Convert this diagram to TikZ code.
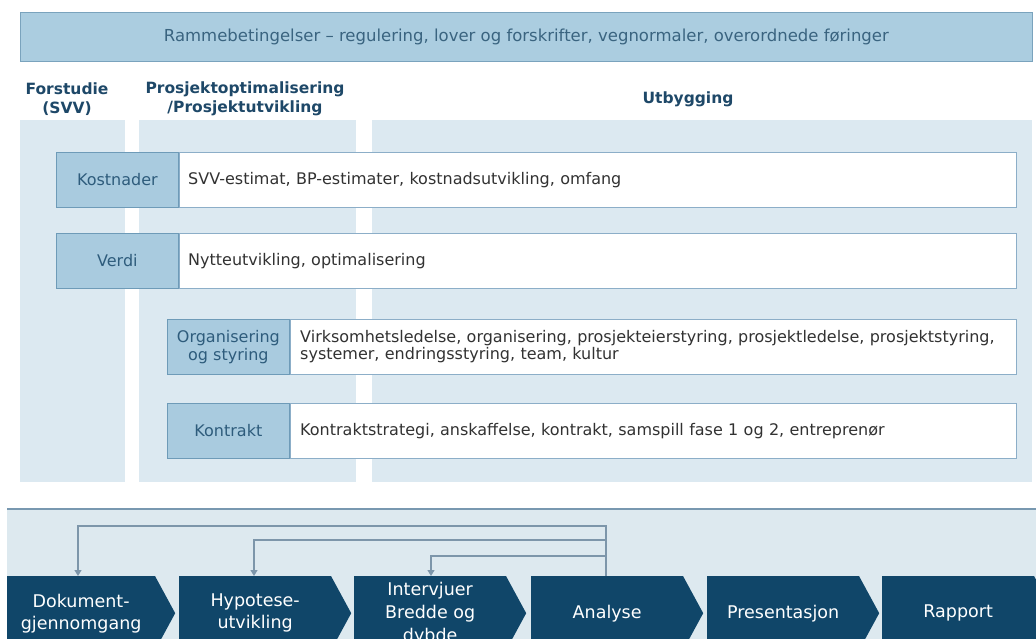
\documentclass[tikz,border=0pt]{standalone}
\usepackage{fontspec}
\setmainfont{DejaVu Sans}
\usetikzlibrary{arrows.meta,shapes.symbols}

\definecolor{bannerfill}{RGB}{171,205,224}
\definecolor{bannerline}{RGB}{122,163,189}
\definecolor{bannertext}{RGB}{58,100,128}
\definecolor{colfill}{RGB}{220,233,241}
\definecolor{bandfill}{RGB}{221,233,239}
\definecolor{bandline}{RGB}{120,152,176}
\definecolor{labfill}{RGB}{169,203,223}
\definecolor{labline}{RGB}{110,155,184}
\definecolor{labtext}{RGB}{46,92,124}
\definecolor{boxline}{RGB}{140,174,200}
\definecolor{bodytext}{RGB}{50,50,50}
\definecolor{headtext}{RGB}{30,72,104}
\definecolor{navy}{RGB}{16,70,105}
\definecolor{fbline}{RGB}{125,150,170}

\tikzset{
  colbg/.style={fill=colfill, draw=none},
  banner/.style={fill=bannerfill, draw=bannerline, line width=0.8pt, text=bannertext,
    font=\fontsize{16.5}{19}\selectfont, inner sep=0pt},
  header/.style={text=headtext, font=\fontsize{15.5}{18.5}\selectfont\bfseries, align=center, inner sep=0pt},
  labbox/.style={fill=labfill, draw=labline, line width=0.8pt, text=labtext, anchor=north west,
    font=\fontsize{16}{18}\selectfont, align=center, inner sep=0pt, minimum width=122pt, minimum height=55pt},
  txtbox/.style={fill=white, draw=boxline, line width=0.8pt, text=bodytext, anchor=north west,
    font=\fontsize{16}{17}\selectfont, align=left, inner xsep=9pt, inner ysep=0pt, minimum height=55pt},
  stage/.style={shape=signal, signal to=east, signal from=nowhere, signal pointer angle=123,
    fill=navy, draw=none, text=white, anchor=north west, inner sep=0pt,
    minimum width=172pt, minimum height=74pt, align=center,
    font=\fontsize{17.5}{22}\selectfont},
  fb/.style={draw=fbline, line width=1.2pt, -{Triangle[width=7pt,length=6pt]}},
}

\begin{document}
\begin{tikzpicture}[x=1pt,y=-1pt]
  \useasboundingbox (0,0) rectangle (1036,639);
  \clip (0,0) rectangle (1036,639);

  % framework banner
  \node[banner, minimum width=1012pt, minimum height=49pt, anchor=north west] (ramme) at (20,12)
    {Rammebetingelser – regulering, lover og forskrifter, vegnormaler, overordnede føringer};

  % phase columns
  \path[colbg] (20,120) rectangle (125,482);
  \path[colbg] (139,120) rectangle (356,482);
  \path[colbg] (372,120) rectangle (1032,482);

  % phase headings
  \node[header] (forstudie) at (67,99) {Forstudie\\(SVV)};
  \node[header] (prosjekt) at (245,99) {Prosjektoptimalisering\\/Prosjektutvikling};
  \node[header] (utbygging) at (688,99) {Utbygging};

  % topic rows
  \node[labbox] (kost) at (56,152) {Kostnader};
  \node[txtbox, text width=819pt] (kostT) at (kost.north east)
    {SVV-estimat, BP-estimater, kostnadsutvikling, omfang};

  \node[labbox] (verdi) at (56,233) {Verdi};
  \node[txtbox, text width=819pt] (verdiT) at (verdi.north east)
    {Nytteutvikling, optimalisering};

  \node[labbox] (org) at (167,319) {Organisering\\og styring};
  \node[txtbox, inner xsep=10pt, text width=706pt] (orgT) at (org.north east)
    {Virksomhetsledelse, organisering, prosjekteierstyring, prosjektledelse, prosjektstyring,\\systemer, endringsstyring, team, kultur};

  \node[labbox] (kontr) at (167,403) {Kontrakt};
  \node[txtbox, inner xsep=10pt, text width=706pt] (kontrT) at (kontr.north east)
    {Kontraktstrategi, anskaffelse, kontrakt, samspill fase 1 og 2, entreprenør};

  % process band
  \path[fill=bandfill] (7,509) rectangle (1036,639);
  \draw[bandline, line width=1.2pt] (7,509) -- (1036,509);

  % process stages
  \node[stage, minimum width=168pt] (dok) at (7,576) {Dokument-\\gjennomgang};
  \node[stage] (hyp) at (179,576) {Hypotese-\\utvikling};
  \node[stage, font=\fontsize{17.5}{23}\selectfont] (int) at (354,576) {Intervjuer\\Bredde og\\dybde};
  \node[stage] (ana) at (531,576) {Analyse};
  \node[stage] (pres) at (707,576) {Presentasjon};
  \node[stage] (rap) at (882,576) {Rapport};

  % feedback loops from the analysis back to earlier stages
  \coordinate (r1) at (606,526);
  \coordinate (r2) at (606,540);
  \coordinate (r3) at (606,556);
  \draw[fb] (ana.north west -| r1) -- (r1) -| ([xshift=71pt]dok.north west);
  \draw[fb] (r2) -| ([xshift=75pt]hyp.north west);
  \draw[fb] (r3) -| ([xshift=77pt]int.north west);
\end{tikzpicture}
\end{document}
